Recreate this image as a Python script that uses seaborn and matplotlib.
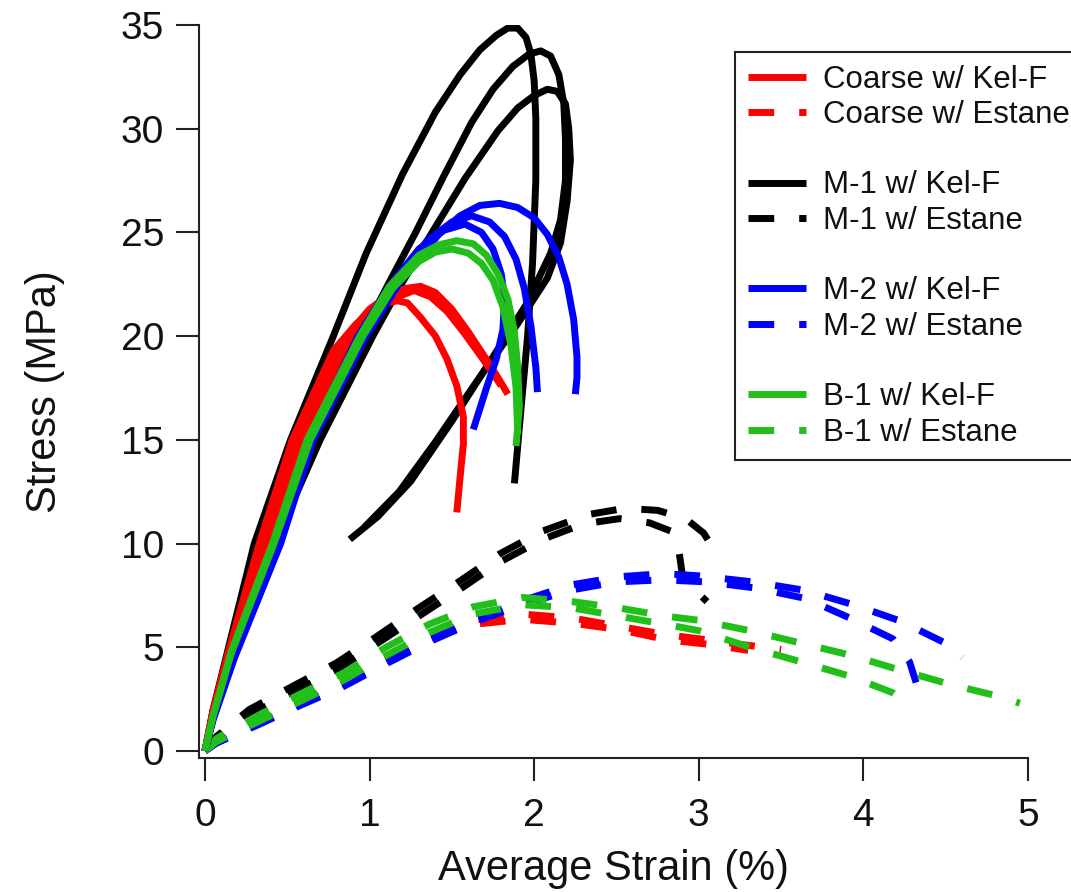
import matplotlib
matplotlib.use("Agg")
import numpy as np
import pandas as pd
import matplotlib.pyplot as plt
import seaborn as sns
from matplotlib.lines import Line2D

sns.set_theme(style="white")
plt.rcParams["font.family"] = ["Liberation Sans", "DejaVu Sans"]

# ---------------- data ----------------
# Coarse w/ Kel-F (red, solid)
coarse_kelf_1_x = [0, 0.05, 0.15, 0.33, 0.53, 0.78, 0.92, 1.02, 1.1, 1.17, 1.23, 1.31, 1.4, 1.47, 1.53, 1.57, 1.57, 1.55, 1.53]
coarse_kelf_1_y = [0, 2.0, 5.0, 10.0, 15.0, 19.3, 20.6, 21.2, 21.6, 21.7, 21.6, 20.9, 20.0, 18.9, 17.6, 16.1, 14.8, 13.2, 11.5]
coarse_kelf_2_x = [0, 0.05, 0.15, 0.35, 0.56, 0.86, 1.0, 1.12, 1.22, 1.31, 1.4, 1.5, 1.6, 1.7, 1.78, 1.84]
coarse_kelf_2_y = [0, 1.9, 4.8, 10.0, 15.0, 20.0, 21.3, 22.0, 22.3, 22.4, 22.1, 21.3, 20.2, 19.0, 18.0, 17.2]
coarse_kelf_3_x = [0, 0.05, 0.16, 0.36, 0.58, 0.88, 1.02, 1.14, 1.27, 1.37, 1.47, 1.57, 1.67, 1.75, 1.8]
coarse_kelf_3_y = [0, 1.8, 4.7, 9.8, 14.8, 19.8, 21.1, 21.8, 22.2, 21.9, 21.2, 20.2, 19.1, 18.2, 17.6]

# M-1 w/ Kel-F (black, solid)
m1_kelf_1_x = [0, 0.05, 0.15, 0.3, 0.52, 0.78, 0.98, 1.2, 1.4, 1.55, 1.67, 1.77, 1.84, 1.9, 1.95, 1.98, 2.0, 2.01, 2.01, 1.99, 1.96, 1.92, 1.88]
m1_kelf_1_y = [0, 2.0, 5.2, 10.0, 15.0, 20.0, 24.0, 27.8, 30.8, 32.6, 33.8, 34.5, 34.85, 34.85, 34.4, 33.6, 32.3, 30.5, 27.5, 23.5, 20.0, 16.5, 12.9]
m1_kelf_2_x = [0, 0.05, 0.2, 0.42, 0.66, 0.95, 1.12, 1.28, 1.45, 1.62, 1.75, 1.87, 1.97, 2.04, 2.1, 2.15, 2.18, 2.19, 2.19, 2.16, 2.1, 1.95, 1.75, 1.5, 1.25, 1.05, 0.88]
m1_kelf_2_y = [0, 1.8, 6.0, 10.5, 15.0, 20.0, 22.6, 25.0, 27.7, 30.3, 31.9, 33.0, 33.6, 33.75, 33.5, 32.6, 31.2, 29.5, 27.5, 25.6, 24.0, 21.5, 19.0, 15.9, 13.0, 11.3, 10.2]
m1_kelf_3_x = [0, 0.05, 0.22, 0.45, 0.7, 1.02, 1.2, 1.38, 1.58, 1.78, 1.9, 2.0, 2.08, 2.14, 2.19, 2.21, 2.22, 2.2, 2.16, 2.08, 1.9, 1.65, 1.4, 1.18, 0.97]
m1_kelf_3_y = [0, 1.7, 6.0, 10.5, 15.0, 20.0, 22.6, 25.0, 27.6, 29.9, 31.0, 31.6, 31.9, 31.8, 31.2, 30.0, 28.5, 26.5, 24.5, 22.8, 20.6, 17.8, 14.9, 12.5, 10.8]

# M-2 w/ Kel-F (blue, solid)
m2_kelf_1_x = [0, 0.05, 0.18, 0.46, 0.66, 0.98, 1.2, 1.42, 1.55, 1.67, 1.79, 1.9, 2.0, 2.08, 2.15, 2.2, 2.24, 2.26, 2.26, 2.25]
m2_kelf_1_y = [0, 1.5, 4.5, 10.0, 15.0, 20.0, 22.8, 24.9, 25.8, 26.3, 26.4, 26.2, 25.7, 24.9, 23.8, 22.5, 20.8, 19.0, 18.0, 17.2]
m2_kelf_2_x = [0, 0.05, 0.17, 0.44, 0.64, 0.95, 1.15, 1.35, 1.5, 1.62, 1.73, 1.82, 1.89, 1.94, 1.98, 2.01, 2.02]
m2_kelf_2_y = [0, 1.6, 4.6, 10.0, 15.0, 20.0, 22.6, 24.6, 25.5, 25.8, 25.5, 24.8, 23.7, 22.3, 20.5, 18.5, 17.3]
m2_kelf_3_x = [0, 0.05, 0.17, 0.43, 0.63, 0.93, 1.12, 1.3, 1.45, 1.58, 1.68, 1.75, 1.8, 1.82, 1.81, 1.77, 1.71, 1.63]
m2_kelf_3_y = [0, 1.6, 4.7, 10.0, 15.0, 20.0, 22.4, 24.2, 25.1, 25.4, 25.0, 24.2, 23.0, 21.8, 20.3, 18.9, 17.5, 15.5]

# B-1 w/ Kel-F (green, solid)
b1_kelf_1_x = [0, 0.05, 0.16, 0.41, 0.62, 0.94, 1.12, 1.3, 1.42, 1.53, 1.63, 1.71, 1.78, 1.84, 1.88, 1.9, 1.91, 1.89]
b1_kelf_1_y = [0, 1.7, 4.8, 10.0, 15.0, 20.0, 22.4, 23.9, 24.4, 24.6, 24.45, 23.9, 23.0, 21.8, 20.2, 18.5, 16.6, 14.7]
b1_kelf_2_x = [0, 0.05, 0.16, 0.42, 0.64, 0.96, 1.14, 1.3, 1.4, 1.5, 1.6, 1.68, 1.75, 1.81, 1.86, 1.89, 1.9]
b1_kelf_2_y = [0, 1.7, 4.7, 10.0, 15.0, 20.0, 22.3, 23.6, 24.05, 24.2, 24.0, 23.5, 22.7, 21.4, 19.5, 17.5, 15.3]

# Coarse w/ Estane (red, dashed)
coarse_est_1_x = [0, 0.07, 0.32, 0.58, 0.84, 1.1, 1.36, 1.63, 1.93, 2.24, 2.52, 2.81, 3.01, 3.29, 3.5]
coarse_est_1_y = [0, 0.42, 1.35, 2.3, 3.25, 4.4, 5.5, 6.3, 6.6, 6.4, 6.0, 5.6, 5.4, 5.1, 4.9]
coarse_est_2_x = [0, 0.07, 0.32, 0.58, 0.84, 1.1, 1.36, 1.63, 1.93, 2.24, 2.52, 2.81, 3.05, 3.3]
coarse_est_2_y = [0, 0.4, 1.3, 2.25, 3.2, 4.35, 5.4, 6.1, 6.35, 6.15, 5.85, 5.35, 5.15, 4.85]

# M-1 w/ Estane (black, dashed)
m1_est_1_x = [0, 0.07, 0.27, 0.54, 0.8, 1.04, 1.29, 1.55, 1.79, 2.05, 2.33, 2.55, 2.75, 2.92, 3.03, 3.1]
m1_est_1_y = [0, 0.7, 2.0, 3.15, 4.25, 5.5, 6.85, 8.2, 9.5, 10.6, 11.4, 11.7, 11.6, 11.2, 10.5, 9.6]
m1_est_2_x = [0, 0.07, 0.27, 0.54, 0.8, 1.04, 1.29, 1.55, 1.79, 2.05, 2.3, 2.52, 2.7, 2.83, 2.88, 2.9, 2.97, 3.05]
m1_est_2_y = [0, 0.6, 1.75, 2.85, 3.9, 5.15, 6.45, 7.8, 9.1, 10.2, 10.95, 11.2, 11.0, 10.6, 9.6, 8.5, 7.8, 7.2]

# M-2 w/ Estane (blue, dashed)
m2_est_1_x = [0, 0.07, 0.32, 0.58, 0.84, 1.1, 1.36, 1.63, 1.95, 2.22, 2.52, 2.78, 2.99, 3.33, 3.64, 3.94, 4.23, 4.51, 4.6]
m2_est_1_y = [0, 0.4, 1.3, 2.25, 3.2, 4.3, 5.35, 6.3, 7.3, 8.0, 8.4, 8.55, 8.45, 8.15, 7.75, 7.05, 6.25, 5.15, 4.5]
m2_est_2_x = [0, 0.07, 0.32, 0.58, 0.84, 1.1, 1.36, 1.63, 1.95, 2.22, 2.5, 2.78, 3.05, 3.35, 3.65, 3.92, 4.18, 4.28, 4.32]
m2_est_2_y = [0, 0.38, 1.25, 2.2, 3.1, 4.2, 5.25, 6.2, 7.1, 7.75, 8.15, 8.25, 8.15, 7.85, 7.35, 6.4, 5.4, 4.3, 3.3]

# B-1 w/ Estane (green, dashed)
b1_est_1_x = [0, 0.07, 0.32, 0.58, 0.84, 1.1, 1.36, 1.63, 1.93, 2.23, 2.51, 2.8, 3.0, 3.31, 3.62, 3.93, 4.18, 4.53, 4.84, 4.95]
b1_est_1_y = [0, 0.6, 1.7, 2.75, 3.75, 5.0, 6.1, 6.95, 7.4, 7.2, 6.9, 6.5, 6.3, 5.8, 5.2, 4.6, 4.0, 3.2, 2.6, 2.3]
b1_est_2_x = [0, 0.07, 0.32, 0.58, 0.84, 1.1, 1.36, 1.63, 1.93, 2.23, 2.51, 2.8, 3.0, 3.31, 3.62, 3.92, 4.18, 4.3]
b1_est_2_y = [0, 0.45, 1.4, 2.4, 3.4, 4.6, 5.7, 6.6, 7.05, 6.9, 6.5, 6.1, 5.8, 5.0, 4.3, 3.6, 2.8, 2.1]

materials = ["Coarse", "M-1", "M-2", "B-1"]
binders = ["Kel-F", "Estane"]
x_ticks = [0, 1, 2, 3, 4, 5]
y_ticks = [0, 5, 10, 15, 20, 25, 30, 35]

curves = [
    ("M-1", "Estane", m1_est_1_x, m1_est_1_y),
    ("M-1", "Estane", m1_est_2_x, m1_est_2_y),
    ("Coarse", "Estane", coarse_est_1_x, coarse_est_1_y),
    ("Coarse", "Estane", coarse_est_2_x, coarse_est_2_y),
    ("M-2", "Estane", m2_est_1_x, m2_est_1_y),
    ("M-2", "Estane", m2_est_2_x, m2_est_2_y),
    ("B-1", "Estane", b1_est_1_x, b1_est_1_y),
    ("B-1", "Estane", b1_est_2_x, b1_est_2_y),
    ("M-1", "Kel-F", m1_kelf_1_x, m1_kelf_1_y),
    ("M-1", "Kel-F", m1_kelf_2_x, m1_kelf_2_y),
    ("M-1", "Kel-F", m1_kelf_3_x, m1_kelf_3_y),
    ("Coarse", "Kel-F", coarse_kelf_1_x, coarse_kelf_1_y),
    ("Coarse", "Kel-F", coarse_kelf_2_x, coarse_kelf_2_y),
    ("Coarse", "Kel-F", coarse_kelf_3_x, coarse_kelf_3_y),
    ("M-2", "Kel-F", m2_kelf_1_x, m2_kelf_1_y),
    ("M-2", "Kel-F", m2_kelf_2_x, m2_kelf_2_y),
    ("M-2", "Kel-F", m2_kelf_3_x, m2_kelf_3_y),
    ("B-1", "Kel-F", b1_kelf_1_x, b1_kelf_1_y),
    ("B-1", "Kel-F", b1_kelf_2_x, b1_kelf_2_y),
]

rows = []
for cid, (mat, bnd, xs, ys) in enumerate(curves):
    for i, (xv, yv) in enumerate(zip(xs, ys)):
        rows.append({"curve": cid, "material": mat, "binder": bnd, "order": i,
                     "strain": xv, "stress": yv})
df = pd.DataFrame(rows)

# ---------------- styling ----------------
colors = {"Coarse": "#ff0000", "M-1": "#000000", "M-2": "#0000ff", "B-1": "#22bf1a"}
LW = 5.0
DASH = (0, (3.7, 3.6))
styles = {"Kel-F": "-", "Estane": DASH}

fig = plt.figure(figsize=(10.71, 8.92), dpi=100)
ax = fig.add_axes([0.1858, 0.1502, 0.7741, 0.8218])

for cid in range(len(curves)):
    sub = df[df["curve"] == cid].sort_values("order")
    mat = sub["material"].iloc[0]
    bnd = sub["binder"].iloc[0]
    n_before = len(ax.lines)
    sns.lineplot(data=sub, x="strain", y="stress", sort=False, estimator=None,
                 color=colors[mat], linewidth=LW, linestyle=styles[bnd],
                 ax=ax, legend=False)
    for ln in ax.lines[n_before:]:
        ln.set_linewidth(LW)
        ln.set_linestyle(styles[bnd])
        ln.set_solid_capstyle("butt")
        ln.set_dash_capstyle("butt")
        ln.set_solid_joinstyle("round")
        ln.set_dash_joinstyle("round")

ax.set_xlim(-0.036, 5.0)
ax.set_ylim(-0.34, 35.0)
ax.set_xticks(x_ticks)
ax.set_yticks(y_ticks)
ax.set_xticklabels([str(t) for t in x_ticks])
ax.set_yticklabels([str(t) for t in y_ticks])
for s in ["top", "right"]:
    ax.spines[s].set_visible(False)
for s in ["left", "bottom"]:
    ax.spines[s].set_linewidth(1.5)
    ax.spines[s].set_color("#222222")
ax.tick_params(axis="both", direction="out", length=16.5, width=1.5, color="#222222",
               labelsize=28, labelcolor="#111111")
ax.tick_params(axis="x", pad=12, bottom=True)
ax.tick_params(axis="y", pad=8.5, left=True)
ax.set_xlabel("Average Strain (%)", fontsize=30, color="#111111", labelpad=11)
ax.set_ylabel("Stress (MPa)", fontsize=30, color="#111111", labelpad=40)
ax.grid(False)

# ---------------- legend ----------------
handles, labels = [], []
for gi, mat in enumerate(materials):
    if gi > 0:
        handles.append(Line2D([], [], color="none"))
        labels.append(" ")
    for bnd in binders:
        handles.append(Line2D([], [], color=colors[mat], linewidth=LW, linestyle=styles[bnd],
                              solid_capstyle="butt", dash_capstyle="butt"))
        labels.append(f"{mat} w/ {bnd}")

leg = fig.legend(handles, labels, loc="upper left",
                 bbox_to_anchor=(735 / 1071, 1 - 52 / 892), bbox_transform=fig.transFigure,
                 fontsize=22.5, frameon=True, fancybox=False, framealpha=1,
                 edgecolor="#222222", borderpad=0.4, labelspacing=0.17,
                 handlelength=1.86, handletextpad=0.55, borderaxespad=0)
leg.get_frame().set_linewidth(1.5)
for t in leg.get_texts():
    t.set_color("#111111")
for h in leg.get_lines():
    h.set_solid_capstyle("butt")
    h.set_dash_capstyle("butt")

fig.savefig("out.png", dpi=100)
